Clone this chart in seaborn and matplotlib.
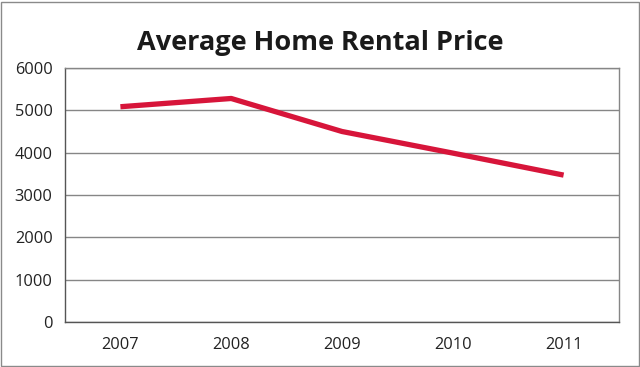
import matplotlib
matplotlib.use("Agg")
import matplotlib.pyplot as plt
import seaborn as sns
import pandas as pd
from matplotlib.patches import Rectangle

years = ["2007", "2008", "2009", "2010", "2011"]
prices = [5085, 5280, 4500, 3990, 3470]
y_ticks = [0, 1000, 2000, 3000, 4000, 5000, 6000]
title = "Average Home Rental Price"

df = pd.DataFrame({"Year": years, "Price": prices})

sns.set_style("white")
plt.rcParams["font.family"] = ["Open Sans", "DejaVu Sans"]

W, H = 640, 367
fig = plt.figure(figsize=(W / 100, H / 100), dpi=100)
L, R, T, B = 65, 619, 68, 322
ax = fig.add_axes([L / W, 1 - B / H, (R - L) / W, (B - T) / H])

sns.lineplot(data=df, x="Year", y="Price", ax=ax, color="#D7153A",
             linewidth=3.8, solid_capstyle="butt", sort=False)

ax.set_xlim(-0.5, len(years) - 0.5)
ax.set_ylim(0, 6000)
ax.set_yticks(y_ticks)
ax.set_yticklabels([str(v) for v in y_ticks])
ax.yaxis.grid(True, color="#868686", linewidth=1.0)
ax.set_axisbelow(True)

# category ticks at boundaries, labels at centres
ax.set_xticks(range(len(years)))
ax.set_xticklabels(years)
ax.set_xticks([i - 0.5 for i in range(len(years) + 1)], minor=True)
ax.tick_params(axis="x", which="major", length=0, pad=11, labelsize=11.8,
               colors="#222222")
ax.tick_params(axis="x", which="minor", length=5, width=1, color="#555555",
               direction="out")
ax.tick_params(axis="y", length=4, width=1, color="#555555", direction="out",
               pad=5, labelsize=11.8, labelcolor="#222222")

for s in ["left", "bottom"]:
    ax.spines[s].set_color("#555555")
    ax.spines[s].set_linewidth(1.0)
for s in ["top", "right"]:
    ax.spines[s].set_color("#868686")
    ax.spines[s].set_linewidth(1.0)
ax.set_xlabel("")
ax.set_ylabel("")

fig.text(0.5, 1 - 43 / H, title, ha="center", va="center",
         fontsize=19.5, fontweight="bold", color="#1a1a1a")

fig.patches.append(Rectangle((1 / W, 1 / H), 1 - 2.5 / W, 1 - 3 / H,
                             transform=fig.transFigure, fill=False,
                             edgecolor="#8a8a8a", linewidth=1.0))

fig.savefig("out.png", dpi=100)
